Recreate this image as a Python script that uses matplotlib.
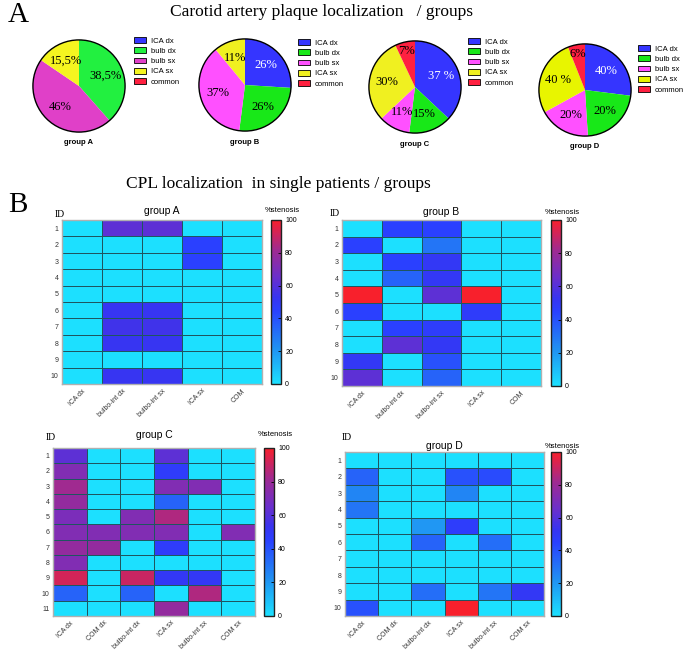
import numpy as np
import matplotlib
matplotlib.use("Agg")
import matplotlib.pyplot as plt
from matplotlib.colors import LinearSegmentedColormap
from matplotlib.patches import Patch, Circle

W, H = 685, 651

# pie data (slice sizes as drawn, labels as printed)
pie_names = ["ICA dx", "bulb dx", "bulb sx", "ICA sx", "common"]
pieA_vals = [0, 38.5, 46, 15.5, 0]
pieA_lbls = ["", "38,5%", "46%", "15,5%", ""]
pieB_vals = [26, 26, 37, 11, 0]
pieB_lbls = ["26%", "26%", "37%", "11%", ""]
pieC_vals = [37, 15, 11, 30, 7]
pieC_lbls = ["37 %", "15%", "11%", "30%", "7%"]
pieD_vals = [27, 22, 18, 27, 6]
pieD_lbls = ["40%", "20%", "20%", "40 %", "6%"]

# heatmap data (% stenosis)
colsAB = ["ICA dx", "bulbo-int dx", "bulbo-int sx", "ICA sx", "COM"]
colsCD = ["ICA dx", "COM dx", "bulbo-int dx", "ICA sx", "bulbo-int sx", "COM sx"]
heatA = [[0, 62, 62, 0, 0],
         [0, 0, 0, 45, 0],
         [0, 0, 0, 45, 0],
         [0, 0, 0, 0, 0],
         [0, 0, 0, 0, 0],
         [0, 52, 52, 0, 0],
         [0, 55, 55, 0, 0],
         [0, 52, 52, 0, 0],
         [0, 0, 0, 0, 0],
         [0, 52, 52, 0, 0]]
heatB = [[0, 45, 45, 0, 0],
         [45, 0, 30, 0, 0],
         [0, 45, 50, 0, 0],
         [0, 35, 50, 0, 0],
         [100, 0, 62, 100, 0],
         [45, 0, 0, 48, 0],
         [0, 45, 47, 0, 0],
         [0, 62, 50, 0, 0],
         [50, 0, 40, 0, 0],
         [62, 0, 35, 0, 0]]
heatC = [[62, 0, 0, 62, 0, 0],
         [72, 0, 0, 48, 0, 0],
         [82, 0, 0, 72, 72, 0],
         [78, 0, 0, 35, 0, 0],
         [70, 0, 72, 85, 0, 0],
         [72, 72, 72, 72, 0, 72],
         [78, 78, 0, 48, 0, 0],
         [72, 0, 0, 0, 0, 0],
         [92, 0, 90, 50, 50, 0],
         [35, 0, 35, 0, 85, 0],
         [0, 0, 0, 78, 0, 0]]
heatD = [[0, 0, 0, 0, 0, 0],
         [35, 0, 0, 40, 42, 0],
         [25, 0, 0, 25, 0, 0],
         [30, 0, 0, 0, 0, 0],
         [0, 0, 20, 47, 0, 0],
         [0, 0, 35, 0, 32, 0],
         [0, 0, 0, 0, 0, 0],
         [0, 0, 0, 0, 0, 0],
         [0, 0, 32, 0, 30, 50],
         [40, 0, 0, 100, 0, 0]]

pie_colorsA = ["#3535ff", "#22f040", "#e040c8", "#f5f520", "#ff2040"]
pie_colors = ["#3535ff", "#18e818", "#ff50ff", "#f0f020", "#ff2040"]
pie_colorsD = ["#3535ff", "#18e818", "#ff50ff", "#e8f500", "#ff2040"]

cmap = LinearSegmentedColormap.from_list("sten", [
    (0.0, "#1ce0ff"), (0.22, "#2090f2"), (0.45, "#2a40ff"), (0.53, "#3834f0"),
    (0.65, "#6a2fcc"), (0.82, "#a02a90"), (1.0, "#f8202c")])

serif = "Liberation Serif"
sans = "Liberation Sans"

fig = plt.figure(figsize=(W / 100, H / 100), dpi=100)


def px(x0, y0, x1, y1):
    return [x0 / W, 1 - y1 / H, (x1 - x0) / W, (y1 - y0) / H]


def fx(x):
    return x / W


def fy(y):
    return 1 - y / H


def draw_pie(cx, cy, r, vals, lbls, colors, name, leg_x, leg_y):
    ax = fig.add_axes(px(cx - r, cy - r, cx + r, cy + r))
    keep = [i for i, v in enumerate(vals) if v > 0]
    v = [vals[i] for i in keep]
    wedges, _ = ax.pie(v, colors=[colors[i] for i in keep], startangle=90,
                       counterclock=False, radius=1,
                       wedgeprops=dict(linewidth=0))
    ax.add_patch(Circle((0, 0), 1, fill=False, edgecolor="black", lw=1.0))
    for w, i in zip(wedges, keep):
        ang = np.deg2rad((w.theta1 + w.theta2) / 2)
        d = 0.62 if vals[i] > 10 else 0.8
        col = "white" if i == 0 else "black"
        ax.text(d * np.cos(ang), d * np.sin(ang), lbls[i], ha="center", va="center",
                fontsize=9, family=serif, color=col)
    ax.set_xlim(-1.02, 1.02)
    ax.set_ylim(-1.02, 1.02)
    ax.set_aspect("equal")
    ax.axis("off")
    fig.text(fx(cx), fy(cy + r + 10), name, ha="center", va="center",
             fontsize=5.5, fontweight="bold", family=sans)
    handles = [Patch(facecolor=c, edgecolor="black", linewidth=0.6) for c in colors]
    fig.legend(handles, pie_names, loc="upper left", bbox_to_anchor=(fx(leg_x), fy(leg_y)),
               frameon=False, handlelength=1.6, handleheight=0.8,
               labelspacing=0.35, handletextpad=0.6, borderpad=0, borderaxespad=0,
               prop=dict(family=sans, size=5.5))


draw_pie(79, 86, 47, pieA_vals, pieA_lbls, pie_colorsA, "group A", 134, 37)
draw_pie(245, 85, 47, pieB_vals, pieB_lbls, pie_colors, "group B", 298, 39)
draw_pie(415, 87, 47, pieC_vals, pieC_lbls, pie_colors, "group C", 468, 38)
draw_pie(585, 90, 47, pieD_vals, pieD_lbls, pie_colorsD, "group D", 638, 45)


def draw_heat(x0, y0, x1, y1, cbx, data, cols, name, id_xy, title_y):
    ax = fig.add_axes(px(x0, y0, x1, y1))
    arr = np.array(data, dtype=float)
    nrow, ncol = arr.shape
    mesh = ax.pcolormesh(arr, cmap=cmap, vmin=0, vmax=100,
                         edgecolors="#1f5560", linewidth=0.5)
    ax.set_xlim(0, ncol)
    ax.set_ylim(nrow, 0)
    ax.set_xticks(np.arange(ncol) + 0.5)
    ax.set_xticklabels(cols, rotation=45, ha="right", rotation_mode="anchor",
                       fontsize=5, family=sans, color="#333333")
    ax.set_yticks(np.arange(nrow) + 0.5)
    ax.set_yticklabels([str(i + 1) for i in range(nrow)], fontsize=5,
                       family=sans, color="#333333")
    ax.tick_params(length=0, pad=2.5)
    for s in ax.spines.values():
        s.set_color("#b0b0b0")
        s.set_linewidth(1.0)
    cax = fig.add_axes(px(cbx, y0, cbx + 10, y1))
    cb = fig.colorbar(mesh, cax=cax, ticks=[0, 20, 40, 60, 80, 100])
    cb.outline.set_linewidth(1.0)
    cb.outline.set_edgecolor("#222222")
    cax.tick_params(labelsize=5, length=2, direction="in", width=0.6, pad=3)
    for t in cax.get_yticklabels():
        t.set_family(sans)
    fig.text(fx((x0 + x1) / 2), fy(title_y), name, ha="center", va="center",
             fontsize=7.5, family=sans)
    fig.text(fx(cbx - 6), fy(title_y), "%stenosis", ha="left", va="center",
             fontsize=5.5, family=sans)
    fig.text(fx(id_xy[0]), fy(id_xy[1]), "ID", ha="left", va="center",
             fontsize=7, family=serif)


draw_heat(62, 220, 262, 384, 271, heatA, colsAB, "group A", (55, 214), 211)
draw_heat(342, 220, 541, 386, 551, heatB, colsAB, "group B", (330, 213), 212)
draw_heat(53, 448, 255, 616, 264, heatC, colsCD, "group C", (46, 438), 435)
draw_heat(345, 452, 544, 616, 551, heatD, colsCD, "group D", (342, 438), 446)

fig.text(fx(8), fy(15), "A", ha="left", va="center", fontsize=21, family=serif)
fig.text(fx(8), fy(205), "B", ha="left", va="center", fontsize=21, family=serif)
fig.text(fx(322), fy(12), "Carotid artery plaque localization   / groups",
         ha="center", va="center", fontsize=12.5, family=serif)
fig.text(fx(278), fy(184), "CPL localization  in single patients / groups",
         ha="center", va="center", fontsize=12.5, family=serif)

fig.savefig("out.png", dpi=100)
